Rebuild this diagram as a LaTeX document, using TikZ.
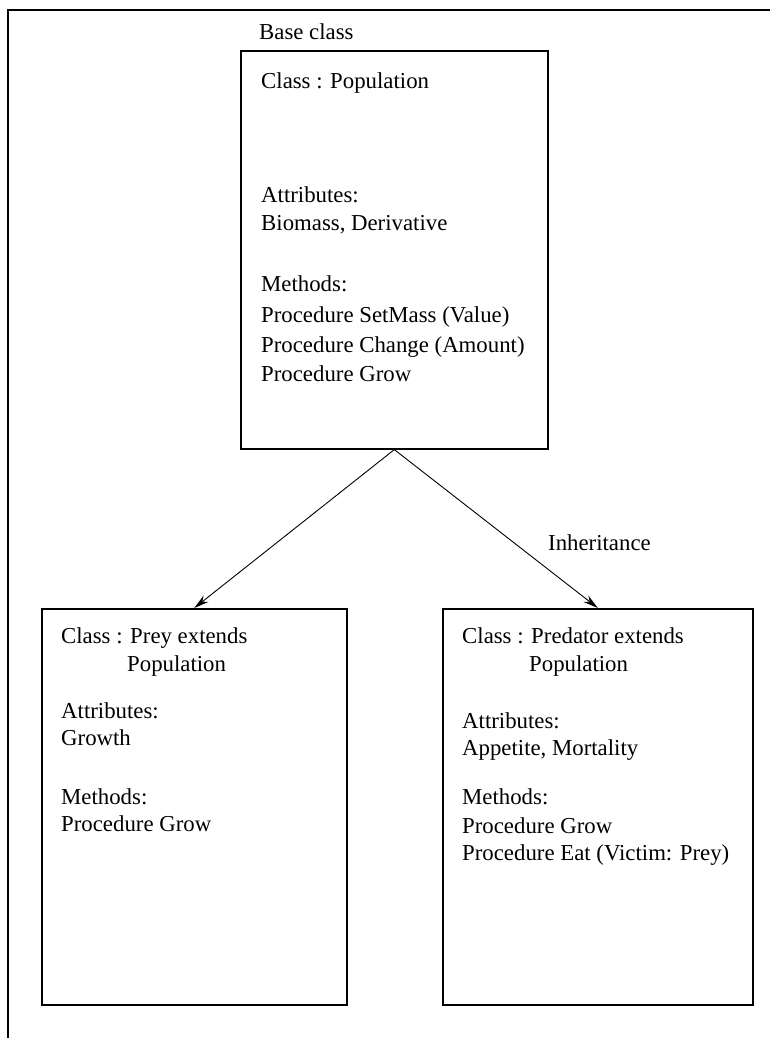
\documentclass[tikz,border=0pt]{standalone}
\usepackage{fontspec}
\setmainfont{Liberation Serif}
\usetikzlibrary{arrows.meta}
\begin{document}
\begin{tikzpicture}[x=1pt,y=-1pt,
  classbox/.style={draw, line width=1.6pt, inner sep=0pt, anchor=north west},
  txt/.style={anchor=base west, inner sep=0pt, font=\fontsize{22.8}{27}\selectfont},
  inherit/.style={line width=0.9pt, -{Stealth[length=15pt,width=8pt]}},
  frame/.style={line width=1.5pt}]
  \useasboundingbox (0,0) rectangle (770,1038);
  % open frame along the top and left edges
  \coordinate (ftop) at (770,10);
  \coordinate (fcorner) at (8,10);
  \coordinate (fbottom) at (8,1038);
  \draw[frame] (ftop) -- (fcorner) -- (fbottom);

  % base class
  \node[txt] (basecap) at (259,40) {Base class};
  \node[classbox, minimum width=307pt, minimum height=398pt] (base) at (240,50) {};
  \node[txt] (b1) at (261,89) {Class : Population};
  \node[txt] (b2) at (261,202) {Attributes:};
  \node[txt] (b3) at (261,230) {Biomass, Derivative};
  \node[txt] (b4) at (261,291) {Methods:};
  \node[txt] (b5) at (261,322) {Procedure SetMass (Value)};
  \node[txt] (b6) at (261,352) {Procedure Change (Amount)};
  \node[txt] (b7) at (261,381) {Procedure Grow};

  % derived class: prey
  \node[classbox, minimum width=305pt, minimum height=396pt] (prey) at (41,608) {};
  \node[txt] (p1) at (61,643) {Class : Prey extends};
  \node[txt] (p2) at (127,671) {Population};
  \node[txt] (p3) at (61,718) {Attributes:};
  \node[txt] (p4) at (61,745) {Growth};
  \node[txt] (p5) at (61,804) {Methods:};
  \node[txt] (p6) at (61,831) {Procedure Grow};

  % derived class: predator
  \node[classbox, minimum width=310pt, minimum height=396pt] (pred) at (442,608) {};
  \node[txt] (q1) at (462,643) {Class : Predator extends};
  \node[txt] (q2) at (529,671) {Population};
  \node[txt] (q3) at (462,728) {Attributes:};
  \node[txt] (q4) at (462,755) {Appetite, Mortality};
  \node[txt] (q5) at (462,804) {Methods:};
  \node[txt] (q6) at (462,833) {Procedure Grow};
  \node[txt] (q7) at (462,860) {Procedure Eat (Victim: Prey)};

  % inheritance connectors
  \draw[inherit] (base.south) -- (prey.north);
  \draw[inherit] (base.south) -- (pred.north);
  \node[txt] (inh) at (548,550) {Inheritance};
\end{tikzpicture}
\end{document}
